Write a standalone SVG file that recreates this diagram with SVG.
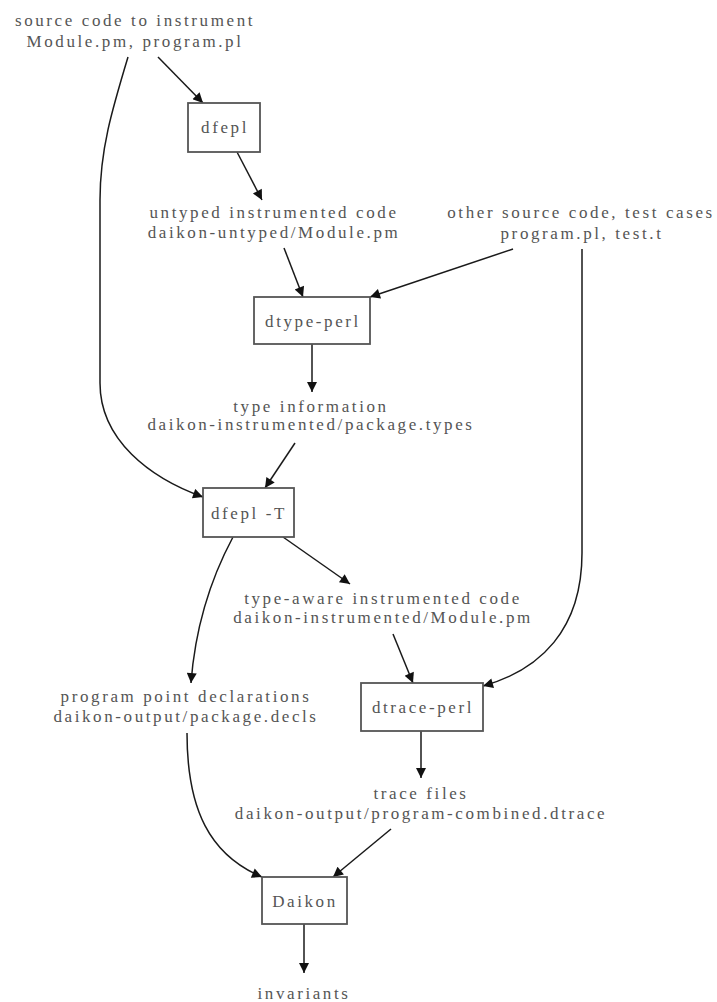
<svg xmlns="http://www.w3.org/2000/svg" width="717" height="1002" viewBox="0 0 717 1002">
<defs>
<marker id="arr" viewBox="0 0 10 10" refX="10" refY="5" markerWidth="13" markerHeight="10" markerUnits="userSpaceOnUse" orient="auto">
<path d="M0,0 L10,5 L0,10 z" fill="#111"/>
</marker>
<style>
text{font-family:"Liberation Serif","Times New Roman",serif;font-size:17px;letter-spacing:2.6px;fill:#555;text-anchor:middle}
.box{fill:#fff;stroke:#555;stroke-width:1.8}
.edge{fill:none;stroke:#1a1a1a;stroke-width:1.5;marker-end:url(#arr)}
</style>
</defs>
<rect width="717" height="1002" fill="#fff"/>
<g id="connectors">
<path class="edge" d="M158,57 L203,103"/>
<path class="edge" d="M128,57 C112,110 100,150 100,200 L100,383 C100,440 150,478 203,497"/>
<path class="edge" d="M237,152 L262,200"/>
<path class="edge" d="M284,248 L303,297"/>
<path class="edge" d="M513,249 L370,297"/>
<path class="edge" d="M582,249 L582,553 C582,630 540,670 483,686"/>
<path class="edge" d="M312,344 L312,392"/>
<path class="edge" d="M295,443 L265,488"/>
<path class="edge" d="M233,537 C210,580 195,630 191,683"/>
<path class="edge" d="M283,537 L350,584"/>
<path class="edge" d="M393,634 L413,683"/>
<path class="edge" d="M421,731 L421,778"/>
<path class="edge" d="M187,733 C187,810 210,855 262,877"/>
<path class="edge" d="M391,829 L333,877"/>
<path class="edge" d="M304,924 L304,973"/>
</g>
<g id="src">
<text x="135" y="26">source code to instrument</text>
<text x="135" y="47">Module.pm, program.pl</text>
</g>
<g id="dfepl">
<rect class="box" x="188" y="103" width="72" height="49"/>
<text x="225" y="133">dfepl</text>
</g>
<g id="untyped">
<text x="274" y="218">untyped instrumented code</text>
<text x="274" y="238">daikon-untyped/Module.pm</text>
</g>
<g id="other">
<text x="581" y="218">other source code, test cases</text>
<text x="582" y="239">program.pl, test.t</text>
</g>
<g id="dtype">
<rect class="box" x="254" y="297" width="116" height="47"/>
<text x="313" y="327">dtype-perl</text>
</g>
<g id="types">
<text x="311" y="412">type information</text>
<text x="311" y="430">daikon-instrumented/package.types</text>
</g>
<g id="dfeplT">
<rect class="box" x="203" y="488" width="91" height="49"/>
<text x="249" y="519">dfepl -T</text>
</g>
<g id="typeaware">
<text x="383" y="604">type-aware instrumented code</text>
<text x="383" y="623">daikon-instrumented/Module.pm</text>
</g>
<g id="decls">
<text x="186" y="702">program point declarations</text>
<text x="186" y="722">daikon-output/package.decls</text>
</g>
<g id="dtrace">
<rect class="box" x="361" y="683" width="122" height="48"/>
<text x="423" y="713">dtrace-perl</text>
</g>
<g id="trace">
<text x="421" y="799">trace files</text>
<text x="421" y="819">daikon-output/program-combined.dtrace</text>
</g>
<g id="daikon">
<rect class="box" x="262" y="877" width="85" height="47"/>
<text x="305" y="907">Daikon</text>
</g>
<g id="invariants">
<text x="304" y="999">invariants</text>
</g>
</svg>
